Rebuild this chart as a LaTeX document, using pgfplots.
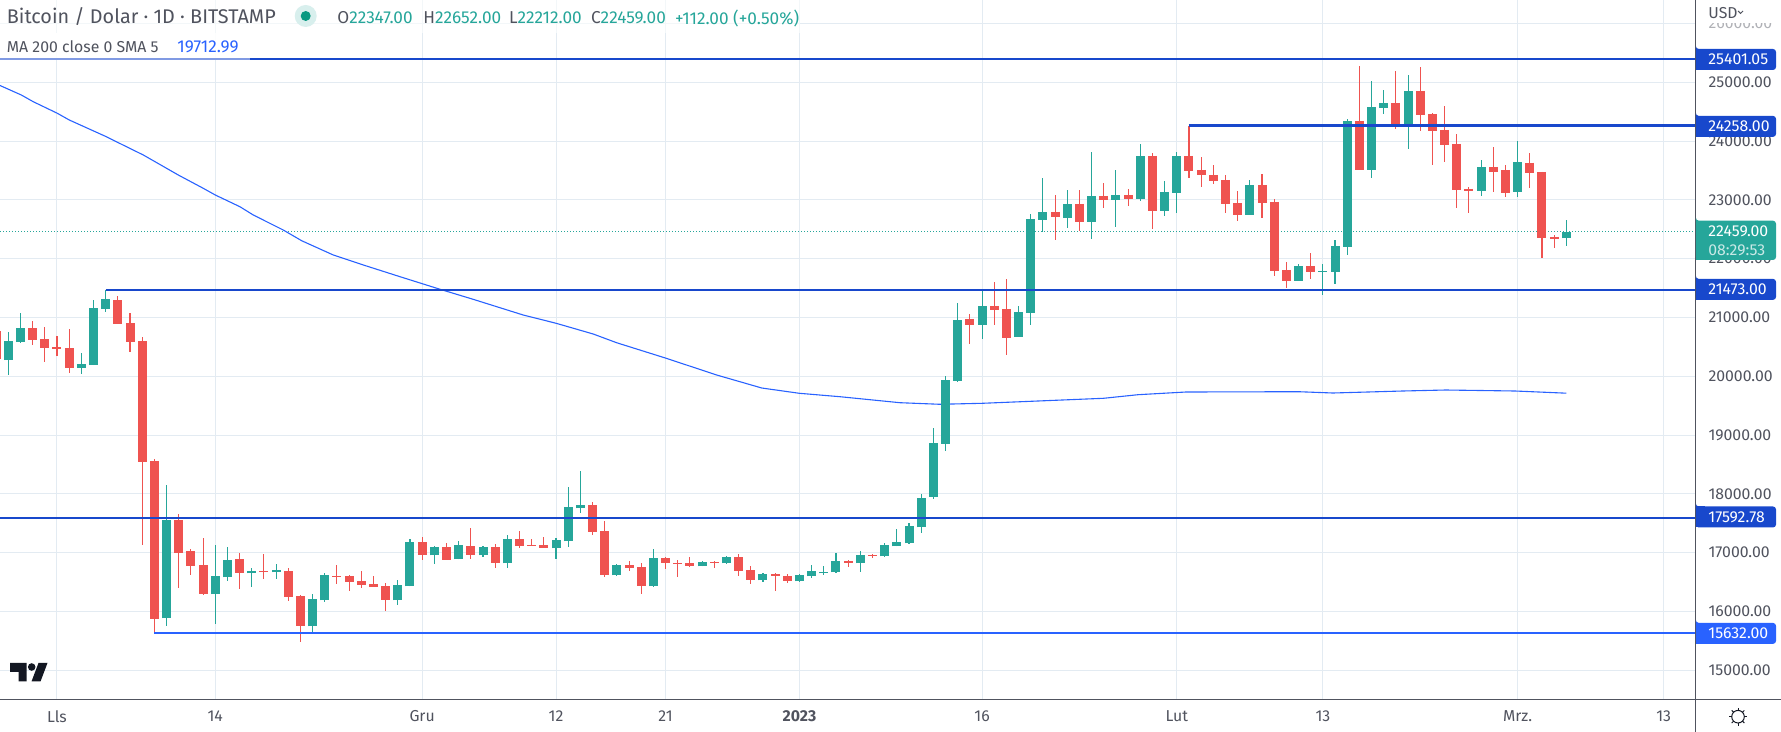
\documentclass[border=0pt]{standalone}
\usepackage{fontspec}
\setmainfont{Fira Sans}
\usepackage{xcolor}
\usepackage{pgfplots}
\usepackage{pgfplotstable}
\pgfplotsset{compat=1.18}
\definecolor{cup}{HTML}{26A69A}
\definecolor{cdn}{HTML}{EF5350}
\definecolor{lvl}{HTML}{1848CC}
\definecolor{lvlb}{HTML}{2962FF}
\definecolor{gridc}{HTML}{E3EBF2}
\definecolor{txt}{HTML}{50535E}
\definecolor{ink}{HTML}{131722}
\definecolor{live}{HTML}{089981}

\pgfplotstableread{
i o h l c
0 20275 20751 20020 20598
1 20581 21074 20564 20819
6 20139 20394 20037 20207
7 20190 21295 20190 21159
8 21142 21473 21091 21312
13 15884 18145 15748 17550
17 16292 17125 15782 16598
18 16581 17091 16513 16870
20 16649 16734 16411 16683
22 16666 16802 16547 16700
25 15748 16292 15646 16207
26 16190 16649 16156 16615
32 16190 16530 16105 16445
33 16428 17227 16428 17176
35 16955 17108 16802 17091
37 16887 17193 16887 17125
39 16955 17108 16921 17091
41 16819 17295 16734 17227
45 17074 17244 16887 17210
46 17193 18111 17091 17771
47 17754 18383 17669 17805
50 16615 16802 16598 16785
53 16428 17057 16411 16904
57 16768 16853 16768 16836
59 16819 16938 16802 16921
62 16530 16649 16496 16632
65 16513 16632 16496 16615
66 16598 16785 16564 16683
67 16649 16768 16615 16666
68 16666 16989 16649 16853
70 16819 17023 16666 16955
72 16938 17159 16921 17125
73 17108 17397 17108 17176
74 17159 17499 17142 17448
75 17431 17992 17329 17924
76 17948 19121 17914 18866
77 18850 20006 18730 19938
78 19921 21247 19904 20958
80 20873 21473 20635 21196
83 20669 21196 20669 21094
84 21077 22761 20873 22676
85 22659 23373 22455 22795
87 22693 23169 22523 22931
89 22625 23815 22336 23067
91 22999 23509 22540 23084
93 23016 23951 22982 23747
95 22812 23322 22727 23135
96 23118 23815 22778 23747
102 22747 23342 22747 23257
106 21625 21914 21625 21880
108 21778 21914 21387 21795
109 21778 22322 21574 22220
110 22203 24380 22067 24346
112 23512 25026 23376 24584
113 24567 24873 24465 24652
115 24261 25128 23870 24856
121 23155 23683 23070 23563
124 23138 24006 23053 23649
128 22347 22652 22212 22459
}\upcandles

\pgfplotstableread{
i o h l c
-1 20768 20850 20200 20286
2 20819 20938 20530 20615
3 20632 20836 20241 20479
4 20496 20683 20343 20462
5 20479 20802 20054 20139
9 21295 21363 20887 20887
10 20904 21074 20411 20581
11 20598 20666 17125 18536
12 18553 18587 15632 15867
14 17550 17652 16394 16989
15 17023 17057 16615 16768
16 16785 17244 16275 16292
19 16887 16989 16377 16649
21 16683 16972 16547 16666
23 16683 16734 16173 16241
24 16258 16275 15476 15748
27 16598 16785 16462 16581
28 16598 16615 16343 16496
29 16513 16683 16394 16445
30 16462 16598 16411 16411
31 16428 16479 16003 16190
34 17176 17261 16870 16955
36 17091 17159 16870 16870
38 17108 17414 16887 16955
40 17091 17142 16734 16819
42 17227 17363 17074 17108
43 17125 17227 17108 17108
44 17125 17261 17074 17074
48 17805 17856 17295 17346
49 17363 17533 16581 16615
51 16785 16853 16683 16734
52 16751 16819 16292 16428
54 16904 16921 16717 16819
55 16819 16870 16581 16802
56 16819 16921 16751 16768
58 16836 16853 16734 16819
60 16921 16972 16598 16683
61 16700 16768 16462 16530
63 16632 16649 16343 16598
64 16598 16632 16479 16513
69 16853 16870 16751 16819
71 16955 16972 16904 16938
79 20975 21060 20550 20873
81 21196 21604 20873 21128
82 21145 21655 20363 20652
86 22795 23084 22319 22710
88 22931 23169 22472 22625
90 23067 23288 22863 22999
92 23084 23186 22897 23016
94 23747 23798 22506 22812
97 23747 24258 23373 23492
98 23512 23734 23223 23427
99 23427 23597 23274 23325
100 23342 23427 22781 22934
101 22951 23155 22645 22747
103 23257 23444 22696 22951
104 22968 23019 21710 21795
105 21812 21948 21506 21625
107 21880 22101 21659 21778
111 24346 25281 23512 23512
114 24652 25196 24210 24261
116 24856 25264 24176 24448
117 24465 24482 23598 24176
118 24193 24601 23649 23938
119 23955 24125 22866 23172
120 23189 23223 22781 23155
122 23563 23904 23138 23478
123 23512 23597 23053 23121
125 23632 23802 23206 23461
126 23478 23478 22016 22356
127 22373 22407 22186 22339
}\downcandles

% wicks then bodies, both as error bars round the open
\newcommand{\candles}[2]{
  \addplot[draw=none, no markers, forget plot, error bars/.cd, y dir=both, y explicit, error mark=none,
    error bar style={draw=#2, line width=0.55pt}]
    table[x=i, y=o, y error plus expr=\thisrow{h}-\thisrow{o}, y error minus expr=\thisrow{o}-\thisrow{l}] {#1};
  \addplot[draw=none, no markers, forget plot, error bars/.cd, y dir=both, y explicit, error mark=none,
    error bar style={draw=#2, line width=4.5pt}]
    table[x=i, y=o, y error plus expr={max(\thisrow{c}-\thisrow{o},0)}, y error minus expr={max(\thisrow{o}-\thisrow{c},0)}] {#1};
}
\newcommand{\fnt}{\fontsize{7.9}{9}\selectfont}
\newcommand{\fnth}{\fontsize{8.6}{10}\selectfont}

\begin{document}
\begin{tikzpicture}
\path[use as bounding box] (0,0) rectangle (890.5pt,366pt);
\begin{axis}[
  at={(0,16.35pt)}, anchor=south west,
  scale only axis, width=847.65pt, height=349.65pt,
  xmin=-0.682, xmax=138.6, ymin=14507, ymax=26400,
  axis line style={draw=none},
  major tick length=0pt,
  grid=major,
  major grid style={draw=gridc, line width=0.5pt},
  xtick={4,17,34,45,54,65,80,96,108,124,136},
  xticklabels={Lls,14,Gru,12,21,\textbf{2023},16,Lut,13,Mrz.,13},
  ytick={15000,16000,...,26000},
  yticklabel pos=right,
  scaled y ticks=false,
  /pgf/number format/.cd, fixed, fixed zerofill, precision=2, 1000 sep={}, assume math mode=true,
  /pgfplots/.cd,
  xticklabel style={font=\fnt, text=txt, inner sep=0pt, yshift=-5.4pt},
  yticklabel style={font=\fnt, text=txt, inner sep=0pt, anchor=west, xshift=6.4pt},
]
% last price
\addplot[cup, line width=0.5pt, dash pattern=on 0.5pt off 1pt, forget plot] coordinates {(-0.682,22459) (138.6,22459)};
% MA 200
\addplot[lvlb, line width=0.55pt, forget plot] coordinates {
  (-1,24975) (1.07,24784) (2.05,24670) (4.03,24473) (5.01,24359) (8.05,24075) (9.04,23973)
  (11.09,23764) (13.97,23423) (16.02,23197) (17.01,23083) (19.03,22884) (20.13,22743)
  (22.59,22488) (24.1,22306) (26.7,22063) (29.17,21893) (32.18,21694) (35.47,21480)
  (38.2,21309) (42.31,21042) (45.02,20901) (48.06,20719) (49.98,20571) (54.06,20306)
  (58.2,20022) (61.9,19801) (64.99,19711) (68.33,19653) (73.26,19551) (76.54,19524)
  (80.03,19541) (83.2,19568) (89.98,19626) (92.81,19687) (96.75,19733) (106.0,19738)
  (108.83,19716) (114.56,19750) (118.1,19767) (123.8,19750) (128,19713)
};
\candles{\upcandles}{cup}
\candles{\downcandles}{cdn}
% levels
\addplot[lvl, line width=1pt, forget plot] coordinates {(19.86,25401.05) (138.6,25401.05)};
\addplot[lvl, line width=1.5pt, forget plot] coordinates {(97,24258) (138.6,24258)};
\addplot[lvl, line width=1pt, forget plot] coordinates {(8,21473) (138.6,21473)};
\addplot[lvl, line width=1pt, forget plot] coordinates {(-0.682,17592.78) (138.6,17592.78)};
\addplot[lvlb, line width=1pt, forget plot] coordinates {(12,15632) (138.6,15632)};
\end{axis}

% overlay: everything below in reference pixels
\begin{scope}[shift={(0,366pt)}, x=0.5pt, y=-0.5pt]
  \fill[white, opacity=.6] (0,0) rectangle (800,33);
  \fill[white, opacity=.92] (0,33) rectangle (250,58);
  \fill[white] (0,33) rectangle (215,50);
  \draw[lvl!55!white, line width=1pt] (0,59) -- (250,59);
  \fill[white] (1696,0) rectangle (1781,23.4);
  \fill[white, opacity=.55] (1696,23.4) rectangle (1781,31);
  % frame of the scales
  \draw[txt, line width=0.5pt] (1695.3,0) -- (1695.3,732);
  \draw[txt, line width=0.5pt] (0,699.3) -- (1781,699.3);
  % header
  \node[anchor=west, inner sep=0pt, text=txt] at (6.5,17) {\fontsize{9.9}{11}\selectfont Bitcoin / Dolar · 1D · BITSTAMP};
  \fill[cup!18!white] (305.7,16) circle (11);
  \fill[live] (305.7,16) circle (5);
  \node[anchor=west, inner sep=0pt, text=txt] at (337,18) {\fnth O\textcolor{cup}{22347.00}};
  \node[anchor=west, inner sep=0pt, text=txt] at (423,18) {\fnth H\textcolor{cup}{22652.00}};
  \node[anchor=west, inner sep=0pt, text=txt] at (508.6,18) {\fnth L\textcolor{cup}{22212.00}};
  \node[anchor=west, inner sep=0pt, text=txt] at (590.7,18) {\fnth C\textcolor{cup}{22459.00}};
  \node[anchor=west, inner sep=0pt, text=cup] at (674.6,18) {\fnth +112.00 (+0.50\%)};
  \node[anchor=west, inner sep=0pt, text=txt] at (6.5,47) {\fnt MA 200 close 0 SMA 5};
  \node[anchor=west, inner sep=0pt, text=lvlb] at (177,47) {\fnth 19712.99};
  % currency
  \node[anchor=west, inner sep=0pt, text=txt] at (1708,12.7) {\fnt USD};
  \draw[txt, line width=0.5pt] (1738,11) -- (1740.5,13.5) -- (1743,11);
  % price badges
  \foreach \yy/\lab/\col in {59.5/25401.05/lvl, 126.4/24258.00/lvl, 289.4/21473.00/lvl, 517/17592.78/lvl, 633.4/15632.00/lvlb}{
    \fill[\col, rounded corners=1.5pt] (1695.8,\yy-10.5) -| (1776,\yy+10.5) -| cycle;
    \fill[\col] (1695.8,\yy-10.5) rectangle (1705,\yy+10.5);
    \node[anchor=west, inner sep=0pt, text=white] at (1708,\yy) {\fnt\lab};
  }
  \fill[cup, rounded corners=1.5pt] (1695.8,220.7) -| (1776,260) -| cycle;
  \fill[cup] (1695.8,220.7) rectangle (1705,260);
  \node[anchor=west, inner sep=0pt, text=white] at (1708,231.5) {\fnt 22459.00};
  \node[anchor=west, inner sep=0pt, text=white!75!cup] at (1708,250) {\fnt 08:29:53};
  % logo
  \fill[ink] (10,663) -- (26.5,663) -- (26.5,681.5) -- (18.5,681.5) -- (18.5,672) -- (10,672) -- cycle;
  \fill[ink] (31.7,667) circle (3.8);
  \fill[ink] (38.5,663) -- (47.5,663) -- (40.5,681.5) -- (31.5,681.5) -- cycle;
  % settings icon
  \draw[ink, line width=0.5pt] (1738,716.7) circle (6.3);
  \foreach \a in {0,45,...,315}{
    \draw[ink, line width=0.5pt] (1738,716.7) ++(\a:6.3) -- ++(\a:2.6);
  }
\end{scope}
\end{tikzpicture}
\end{document}
